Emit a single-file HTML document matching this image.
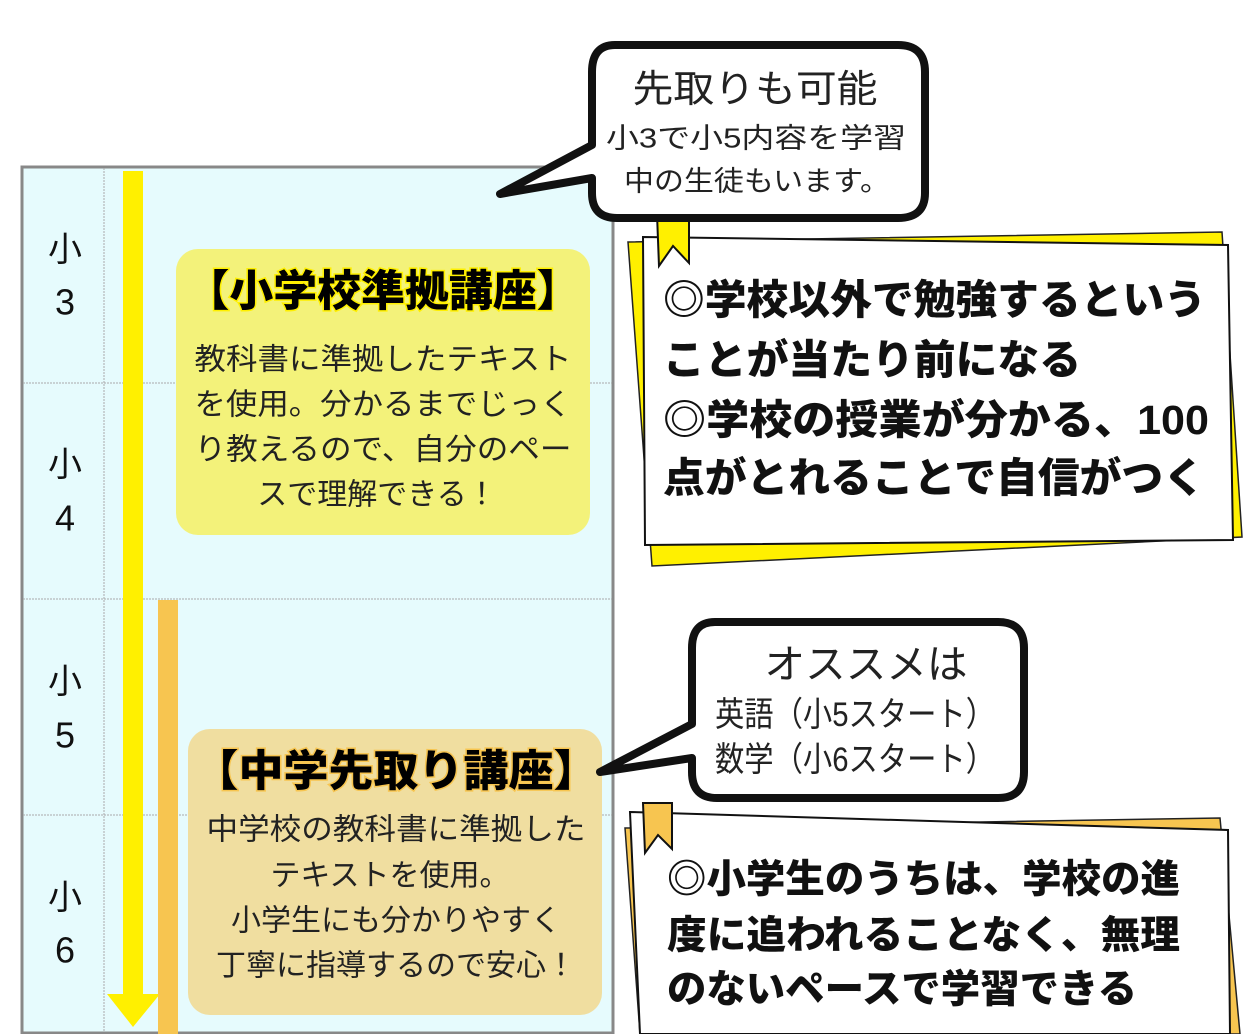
<!DOCTYPE html>
<html><head><meta charset="utf-8"><style>
html,body{margin:0;padding:0;background:#fff}
svg{display:block}
text{font-family:"Liberation Sans","Noto Sans CJK JP",sans-serif}
</style></head><body>
<svg width="1249" height="1034" viewBox="0 0 1249 1034" xmlns="http://www.w3.org/2000/svg">
<!-- table -->
<rect x="22" y="167" width="591" height="866" fill="#e6fbfd" stroke="#888" stroke-width="3"/>
<g stroke="#aaa" stroke-width="1" stroke-dasharray="2,1">
<line x1="104" y1="168" x2="104" y2="1032"/>
<line x1="23" y1="383" x2="612" y2="383"/>
<line x1="23" y1="599" x2="612" y2="599"/>
<line x1="23" y1="815" x2="612" y2="815"/>
</g>
<g font-size="34" text-anchor="middle" fill="#111" dominant-baseline="central">
<text x="65" y="250">小</text><text x="65" y="302" font-size="36">3</text>
<text x="65" y="465">小</text><text x="65" y="518" font-size="36">4</text>
<text x="65" y="682">小</text><text x="65" y="735" font-size="36">5</text>
<text x="65" y="898">小</text><text x="65" y="950" font-size="36">6</text>
</g>
<!-- bars -->
<rect x="123" y="171" width="20" height="832" fill="#fff000"/>
<polygon points="107,994 160,994 133,1027" fill="#fff000"/>
<rect x="158" y="600" width="20" height="434" fill="#f7c550"/>
<!-- yellow box -->
<rect x="176" y="249" width="414" height="286" rx="22" fill="#f3f27a"/>
<text x="383" y="292" font-size="43" font-weight="900" text-anchor="middle" dominant-baseline="central" stroke="#fff000" stroke-width="3" paint-order="stroke" textLength="395" lengthAdjust="spacingAndGlyphs">【小学校準拠講座】</text>
<g font-size="30" fill="#222" text-anchor="middle" dominant-baseline="central">
<text x="383" y="360" textLength="377" lengthAdjust="spacingAndGlyphs">教科書に準拠したテキスト</text>
<text x="383" y="405" textLength="377" lengthAdjust="spacingAndGlyphs">を使用。分かるまでじっく</text>
<text x="383" y="450" textLength="377" lengthAdjust="spacingAndGlyphs">り教えるので、自分のペー</text>
<text x="377" y="495">スで理解できる！</text>
</g>
<!-- orange box -->
<rect x="188" y="729" width="414" height="286" rx="22" fill="#f0dea0"/>
<text x="396" y="772" font-size="43" font-weight="900" text-anchor="middle" dominant-baseline="central" stroke="#f7c550" stroke-width="3" paint-order="stroke" textLength="405" lengthAdjust="spacingAndGlyphs">【中学先取り講座】</text>
<g font-size="30" fill="#222" text-anchor="middle" dominant-baseline="central">
<text x="396" y="830" textLength="379" lengthAdjust="spacingAndGlyphs">中学校の教科書に準拠した</text>
<text x="390" y="876">テキストを使用。</text>
<text x="396" y="921">小学生にも分かりやすく</text>
<text x="396" y="966">丁寧に指導するので安心！</text>
</g>
<!-- card 1 -->
<polygon points="628,242 1222,232 1242,537 652,566" fill="#fff000" stroke="#222" stroke-width="1.5"/>
<polygon points="643,237 1228,245 1233,540 645,545" fill="#fff" stroke="#111" stroke-width="2"/>
<polygon points="657,214 689,214 689,263 673,246 659,266" fill="#fff000" stroke="#111" stroke-width="2"/>
<g font-size="41" font-weight="900" fill="#111" dominant-baseline="central">
<text x="663" y="300" textLength="543" lengthAdjust="spacingAndGlyphs">◎学校以外で勉強するという</text>
<text x="663" y="360" textLength="418" lengthAdjust="spacingAndGlyphs">ことが当たり前になる</text>
<text x="663" y="420" textLength="546" lengthAdjust="spacingAndGlyphs">◎学校の授業が分かる、100</text>
<text x="663" y="478" textLength="542" lengthAdjust="spacingAndGlyphs">点がとれることで自信がつく</text>
</g>
<!-- card 2 -->
<polygon points="625,828 1220,818 1240,1034 640,1034" fill="#f7c550" stroke="#222" stroke-width="1.5"/>
<polygon points="630,812 1228,830 1230,1034 640,1034" fill="#fff" stroke="#111" stroke-width="2"/>
<polygon points="643,803 672,803 672,849 658,835 645,853" fill="#f7c550" stroke="#111" stroke-width="2"/>
<g font-size="39" font-weight="900" fill="#111" dominant-baseline="central">
<text x="667" y="880" textLength="513" lengthAdjust="spacingAndGlyphs">◎小学生のうちは、学校の進</text>
<text x="667" y="936" textLength="513" lengthAdjust="spacingAndGlyphs">度に追われることなく、無理</text>
<text x="667" y="990" textLength="470" lengthAdjust="spacingAndGlyphs">のないペースで学習できる</text>
</g>
<!-- callout 1 -->
<path d="M615 45 H898 Q925 45 925 72 V193 Q925 218 898 218 H617 Q592 218 592 193 V178 L500 194 L592 145 V72 Q592 45 615 45 Z" fill="#fff" stroke="#111" stroke-width="8" stroke-linejoin="round"/>
<g fill="#222" text-anchor="middle" dominant-baseline="central">
<text x="755" y="90" font-size="38" textLength="245" lengthAdjust="spacingAndGlyphs">先取りも可能</text>
<text x="756" y="138" font-size="28" textLength="300" lengthAdjust="spacingAndGlyphs">小3で小5内容を学習</text>
<text x="757" y="181" font-size="28" textLength="266" lengthAdjust="spacingAndGlyphs">中の生徒もいます。</text>
</g>
<!-- callout 2 -->
<path d="M715 622 H998 Q1024 622 1024 648 V772 Q1024 798 998 798 H717 Q692 798 692 772 V758 L600 772 L692 724 V648 Q692 622 715 622 Z" fill="#fff" stroke="#111" stroke-width="8" stroke-linejoin="round"/>
<g fill="#222" dominant-baseline="central">
<text x="866" y="665" font-size="40" text-anchor="middle" textLength="203" lengthAdjust="spacingAndGlyphs">オススメは</text>
<text x="715" y="715" font-size="34" textLength="280" lengthAdjust="spacingAndGlyphs">英語（小5スタート）</text>
<text x="715" y="760" font-size="34" textLength="280" lengthAdjust="spacingAndGlyphs">数学（小6スタート）</text>
</g>
</svg>
</body></html>
